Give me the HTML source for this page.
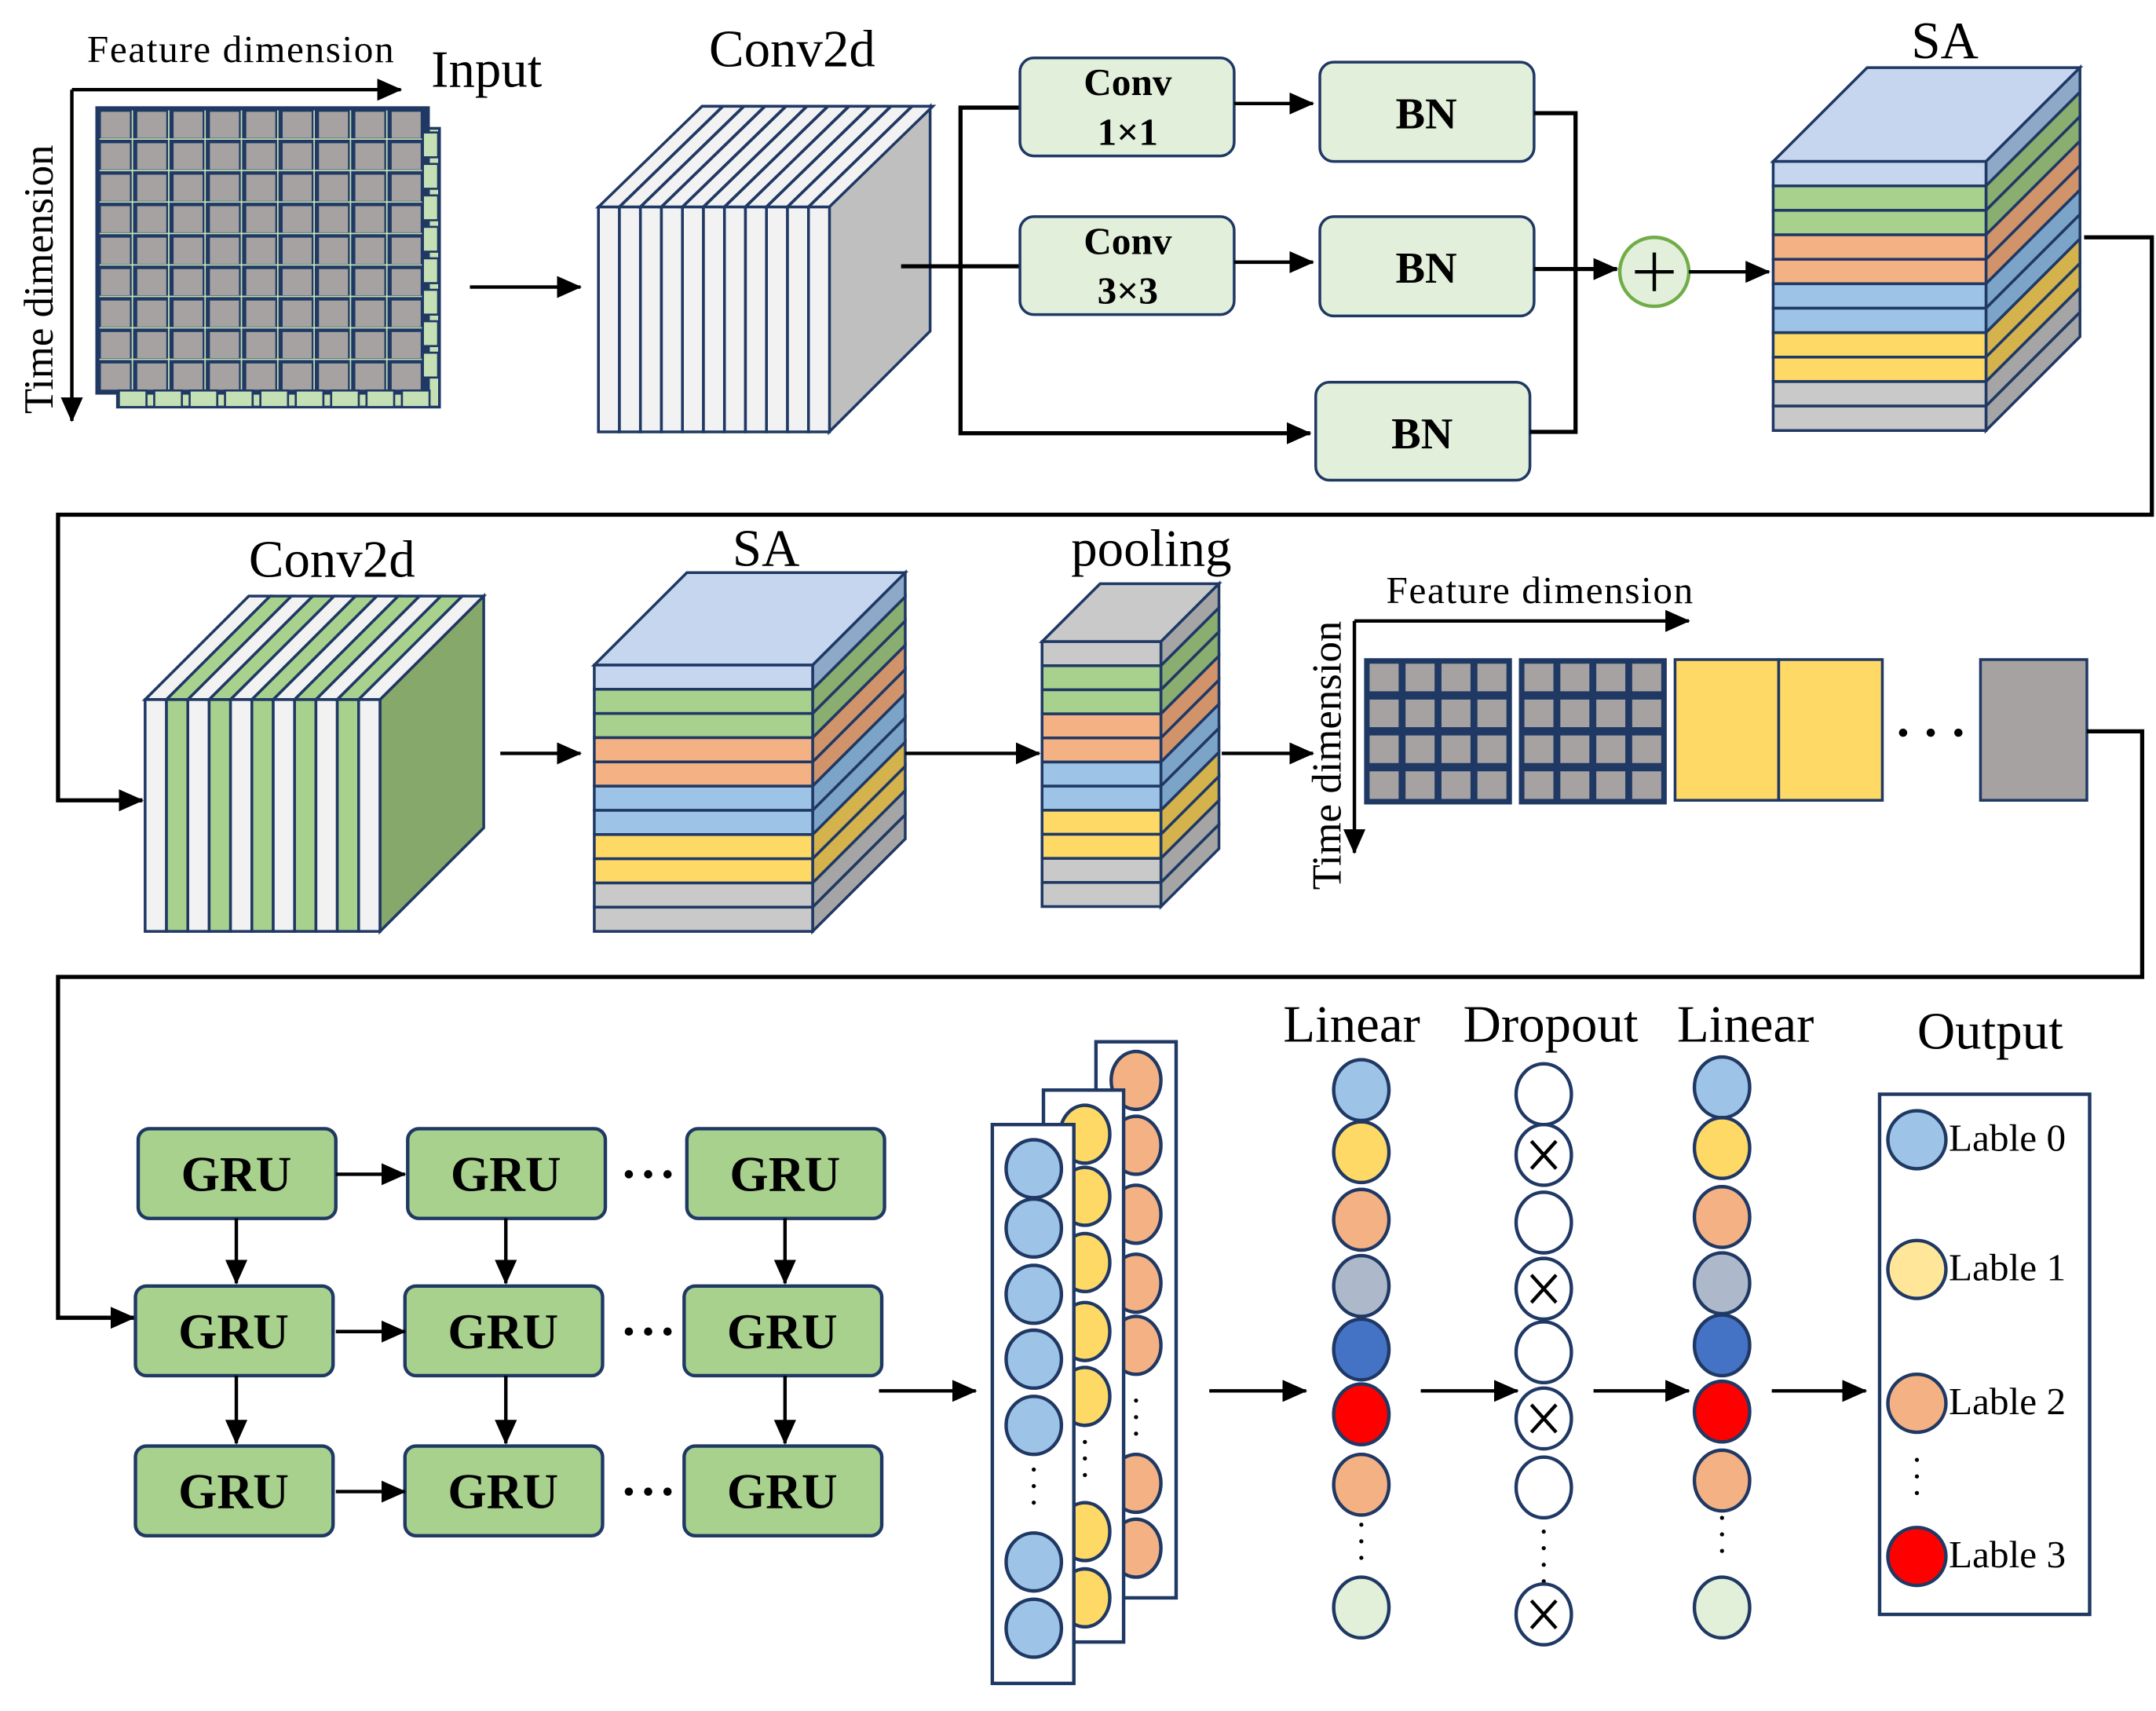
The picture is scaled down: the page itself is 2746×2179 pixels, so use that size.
<!DOCTYPE html>
<html><head><meta charset="utf-8"><style>
html,body{margin:0;padding:0;background:#fff}
svg{display:block}
text{font-family:"Liberation Serif",serif;fill:#000}
</style></head><body>
<svg id="s" xmlns="http://www.w3.org/2000/svg" width="2746" height="2179" viewBox="0 0 1560 1240" preserveAspectRatio="none">
<defs><marker id="b" markerWidth="18" markerHeight="16" refX="17" refY="8" orient="auto" markerUnits="userSpaceOnUse"><path d="M0,0 L18,8 L0,16 z" fill="#000"/></marker></defs>
<g id="g"></g>
</svg>
<script>
var o='';var N='#1f3864';
function L(x1,y1,x2,y2,w,arr){o+=`<line x1="${x1}" y1="${y1}" x2="${x2}" y2="${y2}" stroke="#000" stroke-width="${w||2.5}" ${arr?'marker-end="url(#b)"':''}/>`;}
function P(d,w,arr){o+=`<path d="${d}" fill="none" stroke="#000" stroke-width="${w||3}" ${arr?'marker-end="url(#b)"':''}/>`;}
function R(x,y,w,h,f,sw,rx){o+=`<rect x="${x}" y="${y}" width="${w}" height="${h}" fill="${f}" stroke="${N}" stroke-width="${sw||2}" rx="${rx||0}"/>`;}
function T(x,y,t,s,extra){o+=`<text x="${x}" y="${y}" font-size="${s}" ${extra||''}>${t}</text>`;}
function PG(pts,f){o+=`<polygon points="${pts}" fill="${f}" stroke="${N}" stroke-width="2"/>`;}
function C(x,y,f,rx,ry){o+=`<ellipse cx="${x}" cy="${y}" rx="${rx||20}" ry="${ry||22}" fill="${f}" stroke="${N}" stroke-width="2.5"/>`;}
function X(x,y){C(x,y,'#fff');o+=`<path d="M${x-9},${y-10}L${x+9},${y+10}M${x+9},${y-10}L${x-9},${y+10}" stroke="#000" stroke-width="2.5"/>`;}
function dots(x,y1,y2){for(var y=y1;y<=y2;y+=12)o+=`<circle cx="${x}" cy="${y}" r="1.5" fill="#000"/>`;}
T(63,45,'Feature dimension',28,'textLength="222"');T(312,63,'Input',38);
L(52,65,290,65,2.5,1);L(52,65,52,305,2.5,1);
T(0,0,'Time dimension',30,'transform="translate(38,300) rotate(-90)" textLength="195"');
R(85,93,233,202,'#c5e0b4',2);
R(70,78,240,207,N,0);
for(var i=1;i<9;i++)o+=`<line x1="${72+i*26.3-2.5}" y1="80" x2="${72+i*26.3-2.5}" y2="283" stroke="#c5e0b4" stroke-width="1"/>`;
for(var j=1;j<9;j++)o+=`<line x1="72" y1="${80+j*22.8-2}" x2="308" y2="${80+j*22.8-2}" stroke="#c5e0b4" stroke-width="1"/>`;
for(var i=0;i<9;i++)for(var j=0;j<9;j++){o+=`<rect x="${73+i*26.3}" y="${81+j*22.8}" width="21" height="19" fill="#a6a2a2"/>`;}
for(var i=0;i<9;i++)o+=`<rect x="${86+i*25.6}" y="${283}" width="20" height="12" fill="#c5e0b4" stroke="${N}" stroke-width="1.5"/>`;
for(var j=0;j<8;j++)o+=`<rect x="${306}" y="${96+j*22.8}" width="11" height="18" fill="#c5e0b4" stroke="${N}" stroke-width="1.5"/>`;
L(340,208,420,208,2.5,1);
T(513,48,'Conv2d',38);
PG('600,150 673,77 673,240 600,313','#bfbfbf');
for(var i=0;i<11;i++){var x=433+i*15.2;PG(`${x},150 ${x+75},77 ${x+90},77 ${x+15},150`,'#f2f2f2');R(x,150,15.2,163,'#f2f2f2',2);}
L(652,193,738,193,3);P('M738,78 L695,78 L695,314 L948,314',3,1);
R(738,42,155,71,'#e2efda',2,10);T(816,69,'Conv',28,'text-anchor="middle" font-weight="bold"');T(816,105,'1×1',28,'text-anchor="middle" font-weight="bold"');
R(738,157,155,71,'#e2efda',2,10);T(816,184,'Conv',28,'text-anchor="middle" font-weight="bold"');T(816,220,'3×3',28,'text-anchor="middle" font-weight="bold"');
L(893,75,950,75,2.5,1);L(893,190,950,190,2.5,1);
R(955,45,155,72,'#e2efda',2,10);T(1032,93,'BN',32,'text-anchor="middle" font-weight="bold"');
R(955,157,155,72,'#e2efda',2,10);T(1032,205,'BN',32,'text-anchor="middle" font-weight="bold"');
R(952,277,155,71,'#e2efda',2,10);T(1029,325,'BN',32,'text-anchor="middle" font-weight="bold"');
P('M1110,82 L1140,82 L1140,313 L1107,313',3);
L(1110,195,1170,195,3,1);
o+=`<circle cx="1197" cy="197" r="25" fill="#e2efda" stroke="#70ad47" stroke-width="2.5"/><path d="M1183,197 H1211 M1197,183 V211" stroke="#000" stroke-width="2.5"/>`;
L(1222,197,1280,197,2.5,1);
var cols=[['#c5d6ee','#8ea9c8'],['#a9d18e','#8aad70'],['#a9d18e','#8aad70'],['#f4b183','#d0936a'],['#f4b183','#d0936a'],['#9dc3e6','#7ca4c8'],['#9dc3e6','#7ca4c8'],['#ffd966','#d4b24c'],['#ffd966','#d4b24c'],['#c9c9c9','#a5a5a5'],['#c9c9c9','#a5a5a5']];
function SA(x,y,w,h,d,top,cs){var n=cs.length,bh=h/n;PG(`${x},${y} ${x+d},${y-d} ${x+w+d},${y-d} ${x+w},${y}`,top);
for(var i=0;i<n;i++){var yy=y+i*bh;PG(`${x+w},${yy} ${x+w+d},${yy-d} ${x+w+d},${yy-d+bh} ${x+w},${yy+bh}`,cs[i][1]);R(x,yy,w,bh,cs[i][0],2);}}
T(1383,42,'SA',38);
SA(1283,117,154,195,68,'#c5d6ee',cols);
P('M1508,172 L1557,172 L1557,373 L42,373 L42,580 L103,580',3,1);
T(180,418,'Conv2d',38);
PG('275,507 350,432 350,600 275,675','#86a86a');
for(var i=0;i<11;i++){var x=105+i*15.45,f=i%2?'#a9d18e':'#f2f2f2';PG(`${x},507 ${x+75},432 ${x+90.45},432 ${x+15.45},507`,f);R(x,507,15.45,168,f,2);}
L(362,546,420,546,2.5,1);
T(530,410,'SA',38);
SA(430,482,158,193,67,'#c5d6ee',cols);
L(655,546,752,546,2.5,1);
T(775,410,'pooling',38);
SA(754,465,86,192,42,'#c9c9c9',[['#c9c9c9','#a5a5a5'],['#a9d18e','#8aad70'],['#a9d18e','#8aad70'],['#f4b183','#d0936a'],['#f4b183','#d0936a'],['#9dc3e6','#7ca4c8'],['#9dc3e6','#7ca4c8'],['#ffd966','#d4b24c'],['#ffd966','#d4b24c'],['#c9c9c9','#a5a5a5'],['#c9c9c9','#a5a5a5']]);
L(884,546,950,546,2.5,1);
T(1003,437,'Feature dimension',28,'textLength="222"');L(980,450,1222,450,2.5,1);L(980,450,980,618,2.5,1);
T(0,0,'Time dimension',30,'transform="translate(970,645) rotate(-90)" textLength="195"');
for(var g=0;g<2;g++){R(988+g*112,478,105,104,N,0);for(var i=0;i<4;i++)for(var j=0;j<4;j++)o+=`<rect x="${991+g*112+i*26}" y="${481+j*26}" width="21" height="20" fill="#a6a2a2"/>`;}
R(1212,478,75,102,'#ffd966',2);R(1287,478,75,102,'#ffd966',2);
for(var i=0;i<3;i++)o+=`<circle cx="${1377+i*20}" cy="531" r="3" fill="#000"/>`;
R(1433,478,77,102,'#a6a2a2',2);
P('M1510,530 L1550,530 L1550,708 L42,708 L42,955 L97,955',3,1);
var gx=[100,295,497],gy=[818,932,1048];
for(var r=0;r<3;r++)for(var c=0;c<3;c++){R(gx[c]-(r?2:0),gy[r],143,65,'#a9d18e',2.5,8);T(gx[c]-(r?2:0)+71,gy[r]+45,'GRU',36,'text-anchor="middle" font-weight="bold"');}
for(var r=0;r<3;r++){var y=gy[r]+33;L(243,y,293,y,2.5,1);for(var i=0;i<3;i++)o+=`<circle cx="${455+i*14}" cy="${y}" r="3" fill="#000"/>`;}
for(var r=0;r<2;r++)for(var c=0;c<3;c++){var x=gx[c]+71;L(x,gy[r]+65,x,gy[r+1]-2,2.5,1);}
L(636,1008,706,1008,2.5,1);
R(793,755,58,403,'#fff',2.5);[783,830,880,930,975].forEach(y=>C(822,y,'#f4b183',18,21));dots(822,1015,1040);[1075,1122].forEach(y=>C(822,y,'#f4b183',18,21));
R(755,790,58,400,'#fff',2.5);[822,867,915,965,1012].forEach(y=>C(785,y,'#ffd966',18,21));dots(785,1045,1080);[1110,1158].forEach(y=>C(785,y,'#ffd966',18,21));
R(718,815,59,405,'#fff',2.5);[847,890,938,985,1033].forEach(y=>C(748,y,'#9dc3e6',20,21));dots(748,1065,1095);[1132,1180].forEach(y=>C(748,y,'#9dc3e6',20,21));
L(875,1008,945,1008,2.5,1);L(1028,1008,1098,1008,2.5,1);L(1153,1008,1222,1008,2.5,1);L(1282,1008,1350,1008,2.5,1);
T(978,755,'Linear',38,'text-anchor="middle"');T(1122,755,'Dropout',38,'text-anchor="middle"');T(1263,755,'Linear',38,'text-anchor="middle"');T(1440,760,'Output',38,'text-anchor="middle"');
var lc=['#9dc3e6','#ffd966','#f4b183','#adb9ca','#4472c4','#ff0000','#f4b183'];
[790,835,884,932,978,1025,1076].forEach((y,i)=>C(985,y,lc[i]));dots(985,1105,1135);C(985,1165,'#e2f0d9');
[793,837,886,934,980,1028,1078].forEach((y,i)=>i%2?X(1117,y):C(1117,y,'#fff'));dots(1117,1110,1148);X(1117,1170);
[788,832,882,930,975,1023,1073].forEach((y,i)=>C(1246,y,lc[i]));dots(1246,1100,1130);C(1246,1165,'#e2f0d9');
R(1360,793,152,377,'#fff',2.5);
[[826,'#9dc3e6','Lable 0'],[920,'#ffe699','Lable 1'],[1017,'#f4b183','Lable 2'],[1128,'#ff0000','Lable 3']].forEach(a=>{C(1387,a[0],a[1],21,21);T(1410,a[0]+8,a[2],28);});
dots(1387,1058,1088);
document.getElementById('g').innerHTML=o;
</script>
</body></html>
